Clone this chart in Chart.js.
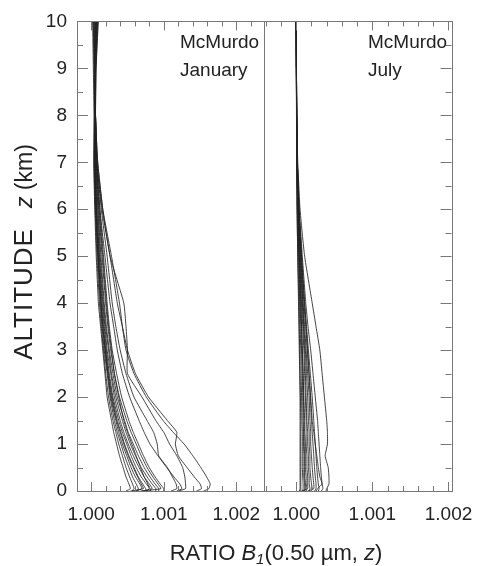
<!DOCTYPE html>
<html>
<head>
<meta charset="utf-8">
<script src="https://cdn.jsdelivr.net/npm/chart.js@4.4.0/dist/chart.umd.min.js"></script>
<style>
  body { margin: 0; background: #fff; }
  canvas { display: block; }
</style>
</head>
<body>
<canvas id="grafico" width="486" height="566"></canvas>
<script>
// altitude grid (km) shared by every profile
const altitudes = [0, 0.05, 0.15, 0.3, 0.5, 0.75, 1, 1.25, 1.5, 2, 2.5, 3, 3.5, 4, 5, 6, 7, 8, 9, 10];

// ratio B1 - 1, in units of 1e-4, one row per sounding
const janProfiles = [
  [4.8, 5.4, 5.2, 4.8, 4.4, 3.9, 3.5, 3.1, 2.8, 2.2, 1.9, 1.6, 1.3, 1.0, 0.7, 0.5, 0.35, 0.4, 0.3, 0.2],
  [5.6, 5.9, 5.7, 5.3, 4.8, 4.3, 3.8, 3.4, 3.0, 2.4, 2.0, 1.7, 1.4, 1.15, 0.8, 0.55, 0.4, 0.45, 0.4, 0.3],
  [6.4, 6.5, 6.2, 5.7, 5.2, 4.6, 4.1, 3.6, 3.2, 2.6, 2.2, 1.8, 1.5, 1.25, 0.9, 0.6, 0.45, 0.5, 0.45, 0.5],
  [6.0, 7.0, 6.7, 6.1, 5.5, 4.9, 4.3, 3.8, 3.4, 2.7, 2.3, 1.9, 1.6, 1.35, 0.95, 0.65, 0.5, 0.5, 0.5, 0.6],
  [7.6, 7.5, 7.1, 6.5, 5.9, 5.2, 4.6, 4.1, 3.6, 2.9, 2.4, 2.0, 1.7, 1.4, 1.0, 0.7, 0.5, 0.55, 0.55, 0.7],
  [8.2, 8.1, 7.6, 6.9, 6.2, 5.5, 4.9, 4.3, 3.8, 3.0, 2.5, 2.1, 1.8, 1.5, 1.1, 0.75, 0.55, 0.55, 0.6, 0.8],
  [7.0, 8.4, 8.0, 7.3, 6.6, 5.8, 5.1, 4.5, 4.0, 3.2, 2.7, 2.2, 1.9, 1.6, 1.15, 0.8, 0.55, 0.6, 0.6, 0.9],
  [8.9, 8.9, 8.4, 7.7, 6.9, 6.1, 5.4, 4.8, 4.3, 3.4, 2.8, 2.4, 2.0, 1.7, 1.25, 0.9, 0.6, 0.6, 0.65, 1.0],
  [9.3, 9.3, 8.8, 8.1, 7.3, 6.5, 5.8, 5.1, 4.6, 3.6, 3.0, 2.5, 2.1, 1.8, 1.35, 0.95, 0.65, 0.6, 0.6, 0.8],
  [6.8, 9.6, 9.2, 8.5, 7.7, 6.9, 6.2, 5.5, 4.9, 3.9, 3.2, 2.7, 2.3, 2.0, 1.5, 1.05, 0.7, 0.6, 0.55, 0.6],
  [10.0, 10.0, 9.5, 8.8, 8.0, 7.2, 6.5, 5.8, 5.2, 4.2, 3.5, 2.9, 2.5, 2.2, 1.7, 1.2, 0.8, 0.6, 0.5, 0.5],
  [7.6, 8.0, 7.8, 7.3, 6.8, 6.2, 5.6, 5.0, 4.5, 3.8, 3.2, 2.8, 2.4, 2.1, 1.6, 1.1, 0.7, 0.55, 0.5, 0.4],
  [5.4, 7.2, 6.9, 6.4, 5.8, 5.1, 4.5, 4.0, 3.5, 2.8, 2.3, 1.95, 1.6, 1.35, 1.0, 0.7, 0.5, 0.5, 0.45, 0.3],
  [11.8, 12.5, 12.2, 11.4, 10.4, 9.2, 8.1, 7.3, 6.6, 5.3, 4.3, 3.6, 3.1, 2.6, 1.9, 1.2, 0.7, 0.5, 0.5, 0.6],
  [11.0, 11.8, 11.7, 11.2, 10.5, 9.3, 9.1, 8.6, 7.7, 5.9, 4.8, 4.0, 3.4, 2.9, 2.2, 1.4, 0.8, 0.6, 0.6, 0.7],
  [12.0, 13.0, 13.0, 12.9, 12.6, 11.8, 10.8, 10.0, 8.9, 7.0, 5.0, 5.0, 4.8, 4.5, 2.6, 1.6, 0.9, 0.6, 0.6, 0.8],
  [14.5, 15.2, 15.0, 14.2, 13.2, 12.0, 11.6, 11.8, 10.5, 7.9, 6.1, 5.0, 4.3, 3.6, 2.6, 1.5, 0.8, 0.6, 0.6, 0.7],
  [15.5, 16.2, 16.4, 15.9, 15.1, 14.0, 12.8, 11.3, 9.9, 7.6, 5.9, 4.8, 4.3, 3.9, 2.8, 1.6, 0.9, 0.6, 0.7, 0.9]
];

const julProfiles = [
  [0.6, 0.6, 0.6, 0.6, 0.6, 0.6, 0.6, 0.6, 0.6, 0.55, 0.5, 0.45, 0.4, 0.35, 0.2, 0.12, 0.08, 0.04, 0.02, 0],
  [0.8, 0.9, 0.9, 0.85, 0.8, 0.8, 0.8, 0.8, 0.75, 0.7, 0.65, 0.6, 0.5, 0.45, 0.3, 0.15, 0.08, 0.04, 0.02, 0],
  [1.0, 1.1, 1.1, 1.0, 1.0, 1.0, 0.95, 0.95, 0.9, 0.85, 0.8, 0.7, 0.6, 0.5, 0.35, 0.2, 0.1, 0.05, 0.02, 0],
  [1.3, 1.4, 1.3, 1.3, 1.2, 1.2, 1.2, 1.1, 1.1, 1.0, 0.9, 0.8, 0.7, 0.6, 0.4, 0.2, 0.1, 0.05, 0.02, 0],
  [0.7, 1.5, 1.5, 1.5, 1.4, 1.4, 1.3, 1.3, 1.3, 1.2, 1.1, 1.0, 0.85, 0.7, 0.45, 0.25, 0.12, 0.05, 0.02, 0],
  [1.7, 1.8, 1.7, 1.7, 1.6, 1.6, 1.5, 1.5, 1.4, 1.3, 1.2, 1.1, 0.95, 0.8, 0.5, 0.25, 0.12, 0.05, 0.02, 0],
  [2.0, 2.1, 2.0, 1.9, 1.8, 1.8, 1.7, 1.7, 1.6, 1.5, 1.35, 1.2, 1.0, 0.85, 0.55, 0.3, 0.14, 0.06, 0.03, 0],
  [1.5, 2.3, 2.3, 2.2, 2.1, 2.0, 1.9, 1.9, 1.8, 1.7, 1.5, 1.3, 1.1, 0.9, 0.6, 0.3, 0.14, 0.06, 0.03, 0],
  [2.4, 2.6, 2.6, 2.5, 2.4, 2.3, 2.2, 2.1, 2.0, 1.85, 1.65, 1.45, 1.25, 1.0, 0.65, 0.35, 0.15, 0.06, 0.03, 0],
  [2.9, 3.0, 2.9, 2.8, 2.7, 2.6, 2.5, 2.4, 2.3, 2.1, 1.85, 1.6, 1.35, 1.1, 0.7, 0.35, 0.15, 0.06, 0.03, 0],
  [3.3, 3.5, 3.4, 3.3, 3.2, 3.1, 3.0, 2.9, 2.8, 2.5, 2.2, 1.9, 1.55, 1.25, 0.8, 0.4, 0.16, 0.06, 0.03, 0],
  [3.9, 4.0, 4.3, 4.3, 4.2, 3.8, 4.1, 4.1, 4.0, 3.7, 3.4, 3.1, 2.6, 2.1, 1.1, 0.5, 0.2, 0.07, 0.03, 0],
  [1.1, 1.2, 1.2, 1.1, 1.1, 1.1, 1.05, 1.0, 1.0, 0.95, 0.9, 0.8, 0.7, 0.6, 0.4, 0.2, 0.1, 0.05, 0.02, 0],
  [2.6, 2.8, 3.4, 3.1, 2.9, 2.7, 2.5, 2.3, 2.1, 1.9, 1.7, 1.5, 1.3, 1.1, 0.7, 0.35, 0.15, 0.06, 0.03, 0],
  [0.4, 0.5, 0.5, 0.5, 0.5, 0.5, 0.5, 0.5, 0.5, 0.5, 0.45, 0.4, 0.35, 0.3, 0.2, 0.1, 0.06, 0.03, 0.01, 0]
];

const majorRatioLabels = ['1.000', '1.001', '1.002'];
const panelNames = [['McMurdo', 'January'], ['McMurdo', 'July']];

const fontFam = '"Liberation Sans", Arial, Helvetica, sans-serif';
const lineColor = 'rgba(35,35,35,0.85)';

function makeSets(profiles, axis) {
  return profiles.map(p => ({
    xAxisID: axis,
    data: altitudes.map((z, i) => ({ x: 1 + p[i] * 1e-4, y: z })),
    showLine: true,
    borderColor: lineColor,
    borderWidth: 1,
    pointRadius: 0,
    tension: 0.15
  }));
}

const datasets = makeSets(janProfiles, 'xJan').concat(makeSets(julProfiles, 'xJul'));

function ratioLabel(v) {
  const k = Math.round((v - 1) * 1e4);
  if (k % 10 !== 0) return '';
  const s = (1 + k / 1e4).toFixed(3);
  return majorRatioLabels.includes(s) ? s : '';
}

function xAxis(min, max) {
  return {
    type: 'linear',
    position: 'bottom',
    stack: 'ratio',
    stackWeight: 1,
    min: min,
    max: max,
    grid: { display: false, drawTicks: false },
    border: { display: false },
    ticks: {
      stepSize: 0.0002,
      includeBounds: false,
      autoSkip: false,
      maxRotation: 0,
      padding: 12,
      color: '#222',
      font: { family: fontFam, size: 19 },
      callback: ratioLabel
    },
    afterFit(s) { s.height = 75; }
  };
}

const frame = {
  id: 'frame',
  afterDraw(chart) {
    const { ctx, chartArea: a, scales } = chart;
    ctx.save();
    ctx.strokeStyle = '#777';
    ctx.lineWidth = 1;
    ctx.beginPath();
    ['xJan', 'xJul'].forEach(id => {
      const s = scales[id];
      s.ticks.forEach(t => {
        const x = Math.round(s.getPixelForValue(t.value)) + 0.5;
        const len = t.label ? 9 : 5;
        ctx.moveTo(x, a.bottom); ctx.lineTo(x, a.bottom - len);
        ctx.moveTo(x, a.top); ctx.lineTo(x, a.top + len);
      });
    });
    const ys = scales.y;
    ys.ticks.forEach(t => {
      const y = Math.round(ys.getPixelForValue(t.value)) + 0.5;
      const len = t.label ? 11 : 6;
      ctx.moveTo(a.left, y); ctx.lineTo(a.left + len, y);
      ctx.moveTo(a.right, y); ctx.lineTo(a.right - len, y);
    });
    ctx.stroke();
    ctx.strokeRect(Math.round(a.left) + 0.5, Math.round(a.top) + 0.5,
      Math.round(a.right - a.left), Math.round(a.bottom - a.top));
    const mid = Math.round(scales.xJan.right) + 0.5;
    ctx.beginPath();
    ctx.moveTo(mid, a.top); ctx.lineTo(mid, a.bottom);
    ctx.stroke();

    // panel names
    ctx.fillStyle = '#222';
    ctx.font = '19px ' + fontFam;
    ctx.textBaseline = 'alphabetic';
    ctx.textAlign = 'left';
    ctx.fillText(panelNames[0][0], 180, 47.5);
    ctx.fillText(panelNames[0][1], 180, 75.5);
    ctx.fillText(panelNames[1][0], 368, 47.5);
    ctx.fillText(panelNames[1][1], 368, 75.5);

    // x title: RATIO B1(0.50 µm, z)
    const big = '22px ' + fontFam, ital = 'italic 22px ' + fontFam, sub = 'italic 15px ' + fontFam;
    const parts = [['RATIO ', big, 0], ['B', ital, 0], ['1', sub, 4], ['(0.50 \u00b5m, ', big, 0], ['z', ital, 0], [')', big, 0]];
    let w = 0;
    parts.forEach(p => { ctx.font = p[1]; w += ctx.measureText(p[0]).width; });
    let x = 276 - w / 2;
    parts.forEach(p => { ctx.font = p[1]; ctx.fillText(p[0], x, 560 + p[2]); x += ctx.measureText(p[0]).width; });

    // y title: ALTITUDE   z (km)
    ctx.translate(32, 252);
    ctx.rotate(-Math.PI / 2);
    const yparts = [['ALTITUDE', '26px ' + fontFam, '1px'], ['   ', '24px ' + fontFam, '0px'],
      ['z', 'italic 23px ' + fontFam, '0px'], [' (km)', '23px ' + fontFam, '0px']];
    w = 0;
    yparts.forEach(p => { ctx.font = p[1]; ctx.letterSpacing = p[2]; w += ctx.measureText(p[0]).width; });
    x = -w / 2;
    yparts.forEach(p => {
      ctx.font = p[1]; ctx.letterSpacing = p[2];
      ctx.fillText(p[0], x, 0);
      x += ctx.measureText(p[0]).width;
    });
    ctx.restore();
  }
};

const ctx = document.getElementById('grafico');
new Chart(ctx, {
  type: 'scatter',
  data: { datasets: datasets },
  options: {
    responsive: false,
    animation: false,
    layout: { padding: { top: 17, right: 26, left: 0, bottom: 0 } },
    plugins: { legend: { display: false }, tooltip: { enabled: false } },
    scales: {
      y: {
        position: 'left',
        min: 0,
        max: 10,
        grid: { display: false, drawTicks: false },
        border: { display: false },
        ticks: {
          stepSize: 0.5,
          autoSkip: false,
          padding: 10,
          color: '#222',
          font: { family: fontFam, size: 19 },
          callback: v => (Math.abs(v - Math.round(v)) < 1e-6 ? String(Math.round(v)) : '')
        },
        afterFit(s) { s.width = 77; }
      },
      xJan: xAxis(0.999805, 1.002384),
      xJul: xAxis(0.99958, 1.00204)
    }
  },
  plugins: [frame]
});
</script>
</body>
</html>
